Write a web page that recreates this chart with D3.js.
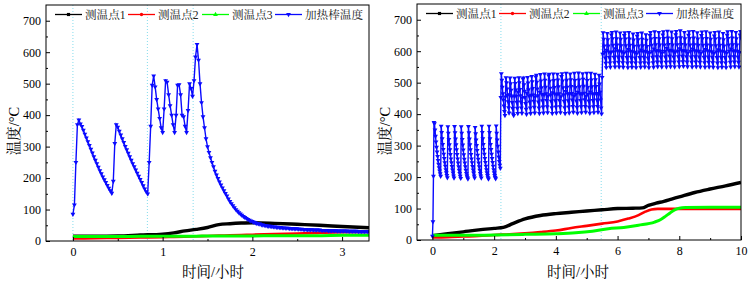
<!DOCTYPE html>
<html><head><meta charset="utf-8">
<script src="https://cdn.jsdelivr.net/npm/d3@7"></script>
<style>body{margin:0;background:#fff}svg{display:block}</style>
</head><body><svg id="c" width="749" height="283"></svg>
<script>
// ---------- DATA ----------
const seriesNames = ["测温点1", "测温点2", "测温点3", "加热棒温度"];
const yTicks = [0, 100, 200, 300, 400, 500, 600, 700];
const yMinorTicks = [50, 150, 250, 350, 450, 550, 650];
const sampleStepH = 1 / 60; // heater rod logged once per minute

// Left panel
const leftXTicks = [0, 1, 2, 3];
const leftXMinor = [0.5, 1.5, 2.5];
const leftGuides = [0, 0.83, 1.34];
const leftTime = [0, 0.25, 0.5, 0.75, 1.0, 1.125, 1.25, 1.375, 1.5, 1.625, 1.75, 1.875, 2.0, 2.25, 2.5, 2.75, 3.0, 3.3];
const leftP1 = [15, 15, 16, 19, 22, 26, 32, 37, 43, 52, 55, 57, 58, 56, 53, 50, 46, 42];
const leftP2 = [8, 9, 10, 11, 12, 13, 14, 15, 16, 17, 18, 19, 20, 22, 24, 26, 28, 29];
const leftP3 = [14, 14, 14, 15, 15, 15, 15, 15, 16, 16, 16, 16, 16, 17, 17, 17, 18, 18];
const leftRod = [
  85, 115, 250, 370, 385, 372,
  364, 352, 340, 328, 316, 304, 292, 280, 268, 257, 246, 235, 224, 214, 204, 195, 186, 177, 168, 160, 152,
  190, 310, 370, 362,
  349, 337, 325, 313, 301, 290, 279, 268, 257, 246, 236, 226, 216, 206, 196, 186, 176, 166, 157, 150,
  250, 365, 495, 525, 490, 450, 420, 390, 360, 345,
  420, 510, 505, 465, 430, 400, 370, 345,
  400, 495, 497, 465, 400, 395, 365, 345,
  415, 500, 485, 460, 510, 585, 625, 575, 500, 440, 395, 360, 325, 300,
  282, 265, 250, 236, 222, 210, 199, 188, 178, 169, 160, 151, 143, 134, 126, 119, 112, 106, 100, 95,
  90, 86, 82, 78, 75, 72, 69, 66, 64, 62, 60, 58, 56, 55, 54, 52, 51, 50, 49, 48,
  47, 47, 46, 45, 45, 44, 44, 43, 43, 42,
  42, 41, 41, 41, 40, 40, 40, 39, 39, 39, 38, 38, 38, 37, 37, 37, 36,
  36, 36, 36, 35, 35, 35, 35, 35, 34, 34, 34, 34, 34, 33, 33, 33, 33, 33, 33, 32, 32, 32, 32,
  32, 32, 32, 31, 31, 31, 31, 31, 31, 31, 30, 30, 30, 30, 30, 30, 30, 30
];

// Right panel
const rightXTicks = [0, 2, 4, 6, 8, 10];
const rightXMinor = [1, 3, 5, 7, 9];
const rightGuides = [2.22, 5.47];
const rightTimeP1 = [0, 0.5, 1, 1.5, 2, 2.3, 2.6, 3, 3.5, 4, 4.5, 5, 5.5, 6, 6.5, 6.8, 7, 7.25, 7.5, 7.75, 8, 8.5, 9, 9.5, 10];
const rightP1 = [14, 20, 26, 32, 37, 40, 52, 67, 78, 84, 88, 92, 96, 100, 101, 102, 110, 117, 123, 130, 137, 151, 162, 172, 183];
const rightTimeP2 = [0, 0.5, 1, 1.5, 2, 2.5, 3, 3.5, 4, 4.5, 5, 5.5, 6, 6.35, 6.68, 6.9, 7.1, 7.3, 7.5, 8, 9, 10];
const rightP2 = [8, 9, 11, 13, 16, 18, 21, 25, 30, 38, 45, 52, 59, 68, 79, 90, 97, 99, 99, 99, 99, 99];
const rightTimeP3 = [0, 1, 2, 3, 4, 4.64, 5.18, 5.7, 6.2, 6.68, 7.2, 7.4, 7.55, 7.7, 7.85, 8.0, 8.2, 9, 10];
const rightP3 = [15, 15, 16, 18, 20, 23, 28, 36, 40, 47, 57, 65, 75, 86, 96, 101, 103, 104, 104];
const rightRod = [
  12, 58, 203, 374, 370,
  350, 330, 312, 295, 280, 266, 253, 241, 230, 220, 211, 203,
  362, 342, 322, 304, 288, 273, 259, 246, 235, 224, 214, 205, 198,
  360, 340, 320, 303, 287, 272, 258, 246, 234, 223, 213, 204, 197,
  361, 341, 321, 303, 287, 272, 258, 245, 233, 222, 212, 203, 196,
  360, 340, 320, 302, 286, 271, 257, 245, 233, 222, 212, 204, 198, 194,
  361, 341, 321, 303, 287, 272, 258, 246, 234, 223, 213, 204, 197,
  358, 338, 318, 301, 285, 270, 257, 245, 233, 222, 212, 204, 197,
  362, 342, 322, 304, 288, 273, 259, 247, 235, 224, 214, 205, 198, 194,
  362, 342, 322, 304, 288, 273, 259, 247, 235, 224, 214, 205, 199, 195,
  363, 340, 318, 298, 280, 264, 250, 238, 228,
  453, 529, 508, 486, 465, 445, 426, 409, 396,
  455, 516, 500, 480, 460, 440, 421, 404,
  462, 515, 497, 476, 456, 437, 418, 401, 396,
  458, 514, 498, 477, 457, 438, 419, 402,
  470, 516, 500, 479, 459, 439, 420, 403,
  452, 512, 515, 494, 473, 453, 434, 416, 400,
  466, 517, 499, 478, 458, 439, 420, 402,
  460, 520, 503, 482, 461, 441, 422, 404,
  455, 518, 524, 502, 480, 459, 439, 420, 402,
  470, 526, 506, 484, 463, 443, 423, 404,
  462, 528, 508, 486, 465, 444, 424, 405,
  458, 522, 527, 505, 483, 462, 441, 421, 402,
  468, 528, 507, 485, 464, 443, 423, 404,
  463, 527, 509, 487, 465, 444, 424, 405,
  456, 520, 529, 506, 484, 462, 441, 421, 402,
  472, 530, 508, 486, 464, 443, 423, 404,
  465, 528, 510, 488, 466, 445, 425, 406,
  458, 530, 507, 485, 463, 442, 422, 403,
  470, 531, 509, 487, 465, 444, 424, 405,
  464, 529, 511, 489, 467, 446, 425, 406,
  457, 530, 507, 485, 463, 442, 422, 403,
  471, 530, 509, 487, 465, 444, 424, 405,
  463, 527, 510, 488, 466, 445, 425, 406,
  462, 524, 496, 470, 445, 420, 401,
  517, 591, 659, 638, 617, 597, 579, 562, 548,
  603, 657, 637, 617, 598, 580, 563, 549,
  596, 652, 660, 640, 619, 599, 581, 564, 550,
  608, 661, 640, 620, 600, 582, 565, 550,
  601, 658, 638, 618, 599, 581, 564, 549,
  594, 650, 659, 639, 618, 598, 580, 563, 548,
  606, 660, 639, 619, 600, 581, 564, 549,
  599, 655, 636, 616, 597, 579, 563, 548,
  592, 648, 657, 637, 617, 598, 580, 563, 549,
  604, 658, 638, 618, 599, 581, 564, 550,
  600, 653, 635, 615, 597, 579, 562, 548,
  594, 650, 660, 639, 619, 599, 581, 564, 549,
  607, 662, 641, 621, 601, 583, 566, 551,
  602, 660, 640, 620, 600, 582, 565, 550,
  595, 652, 662, 641, 620, 600, 582, 565, 550,
  609, 664, 642, 622, 602, 584, 566, 551,
  603, 661, 640, 620, 601, 582, 565, 550,
  596, 653, 663, 642, 621, 601, 583, 566, 551,
  608, 665, 643, 622, 602, 584, 567, 552,
  602, 660, 640, 620, 601, 583, 566, 551,
  595, 651, 662, 641, 620, 600, 582, 565, 550,
  607, 663, 642, 621, 601, 583, 566, 551,
  601, 659, 639, 619, 600, 582, 565, 550,
  594, 650, 661, 640, 619, 599, 581, 564, 549,
  606, 662, 641, 620, 601, 582, 565, 550,
  600, 658, 638, 618, 599, 581, 564, 549,
  593, 649, 660, 639, 618, 598, 580, 563, 548,
  605, 661, 640, 619, 600, 581, 564, 549,
  600, 657, 637, 617, 598, 580, 563, 548,
  594, 651, 662, 641, 620, 600, 582, 565, 550,
  607, 663, 642, 621, 601, 583, 566, 551,
  601, 660, 640, 620, 600, 582, 565, 550,
  596, 652, 663, 642
];

// ---------- DRAWING ----------
const svg = d3.select("#c");
const FONT = "'Liberation Serif','Noto Serif CJK SC','Noto Sans CJK SC',serif";
const colors = ["#000000", "#ff0000", "#00ff00", "#0a0aff"];
const probeWidths = [3.4, 2.6, 3.0];
const guideColor = "#86dcec";

function drawPanel(cfg) {
  const x = d3.scaleLinear().domain(cfg.xDomain).range([cfg.left, cfg.right]);
  const y = d3.scaleLinear().domain([0, 750]).range([cfg.bottom, cfg.top]);
  const g = svg.append("g");

  svg.append("clipPath").attr("id", "clip" + cfg.id)
    .append("rect").attr("x", cfg.left).attr("y", cfg.top)
    .attr("width", cfg.right - cfg.left).attr("height", cfg.bottom - cfg.top);

  // dotted guide lines
  g.selectAll("line.guide").data(cfg.guides).join("line").attr("class", "guide")
    .attr("x1", d => x(d)).attr("x2", d => x(d))
    .attr("y1", cfg.top).attr("y2", cfg.bottom)
    .attr("stroke", guideColor).attr("stroke-width", 1).attr("stroke-dasharray", "1,2");

  const plot = g.append("g").attr("clip-path", `url(#clip${cfg.id})`);
  const smooth = d3.line().x(d => x(d.t)).y(d => y(d.v)).curve(d3.curveMonotoneX);
  cfg.probes.forEach((s, k) => {
    plot.append("path")
      .datum(s.time.map((t, i) => ({ t, v: s.values[i] })))
      .attr("d", smooth).attr("fill", "none")
      .attr("stroke", colors[k]).attr("stroke-width", probeWidths[k])
      .attr("stroke-linejoin", "round");
  });

  const rod = cfg.rod.map((v, i) => ({ t: i * sampleStepH, v }));
  plot.append("path").datum(rod)
    .attr("d", d3.line().x(d => x(d.t)).y(d => y(d.v)))
    .attr("fill", "none").attr("stroke", colors[3]).attr("stroke-width", 1.4);
  const tri = d3.symbol().type(d3.symbolTriangle).size(10)();
  plot.selectAll("path.mk").data(rod).join("path").attr("class", "mk")
    .attr("d", tri)
    .attr("transform", d => `translate(${x(d.t)},${y(d.v)}) rotate(180)`)
    .attr("fill", colors[3]);

  // axes
  const axStyle = a => a.attr("font-family", FONT).attr("font-size", 12)
    .call(s => s.select(".domain").remove())
    .call(s => s.selectAll("text").attr("fill", "#000"))
    .call(s => s.selectAll("line").attr("stroke", "#000"));
  g.append("g").attr("transform", `translate(0,${cfg.bottom})`)
    .call(d3.axisBottom(x).tickValues(cfg.xTicks).tickSize(-4).tickPadding(6).tickFormat(d3.format("d")))
    .call(axStyle);
  g.append("g").attr("transform", `translate(0,${cfg.bottom})`)
    .call(d3.axisBottom(x).tickValues(cfg.xMinor).tickSize(-2).tickFormat(""))
    .call(axStyle);
  g.append("g").attr("transform", `translate(${cfg.left},0)`)
    .call(d3.axisLeft(y).tickValues(yTicks).tickSize(-4).tickPadding(5).tickFormat(d3.format("d")))
    .call(axStyle);
  g.append("g").attr("transform", `translate(${cfg.left},0)`)
    .call(d3.axisLeft(y).tickValues(yMinorTicks).tickSize(-2).tickFormat(""))
    .call(axStyle);

  // frame
  g.append("rect").attr("x", cfg.left).attr("y", cfg.top)
    .attr("width", cfg.right - cfg.left).attr("height", cfg.bottom - cfg.top)
    .attr("fill", "none").attr("stroke", "#000").attr("stroke-width", 1);

  // legend
  const legOffsets = [9, 82, 156, 229];
  const legY = cfg.top + 9.5;
  const markerPaths = [
    d3.symbol().type(d3.symbolSquare).size(10)(),
    d3.symbol().type(d3.symbolCircle).size(9)(),
    d3.symbol().type(d3.symbolTriangle).size(10)(),
    d3.symbol().type(d3.symbolTriangle).size(10)()
  ];
  seriesNames.forEach((name, k) => {
    const lx = cfg.left + legOffsets[k];
    g.append("line").attr("x1", lx).attr("x2", lx + 27).attr("y1", legY).attr("y2", legY)
      .attr("stroke", colors[k]).attr("stroke-width", 1.3);
    g.append("path").attr("d", markerPaths[k])
      .attr("transform", `translate(${lx + 13.5},${legY})` + (k === 3 ? " rotate(180)" : ""))
      .attr("fill", colors[k]);
    g.append("text").attr("x", lx + 30).attr("y", legY + 4.2)
      .attr("font-family", FONT).attr("font-size", 11.6).attr("fill", "#222").text(name);
  });

  // titles
  g.append("text").attr("x", cfg.xTitleX).attr("y", 276.5).attr("text-anchor", "middle")
    .attr("font-family", FONT).attr("font-size", 14.5).text("时间/小时");
  g.append("text").attr("transform", `translate(${cfg.yTitleX},131) rotate(-90)`)
    .attr("text-anchor", "middle").attr("dominant-baseline", "central")
    .attr("font-family", FONT).attr("font-size", 14.5).text("温度/°C");
}

drawPanel({
  id: "L", left: 46, right: 369, top: 5, bottom: 241, xDomain: [-0.3, 3.3],
  xTicks: leftXTicks, xMinor: leftXMinor, guides: leftGuides,
  probes: [{ time: leftTime, values: leftP1 }, { time: leftTime, values: leftP2 }, { time: leftTime, values: leftP3 }],
  rod: leftRod, xTitleX: 213, yTitleX: 14
});
drawPanel({
  id: "R", left: 417, right: 741, top: 4, bottom: 240, xDomain: [-0.5, 10],
  xTicks: rightXTicks, xMinor: rightXMinor, guides: rightGuides,
  probes: [{ time: rightTimeP1, values: rightP1 }, { time: rightTimeP2, values: rightP2 }, { time: rightTimeP3, values: rightP3 }],
  rod: rightRod, xTitleX: 578, yTitleX: 385
});
</script></body></html>
